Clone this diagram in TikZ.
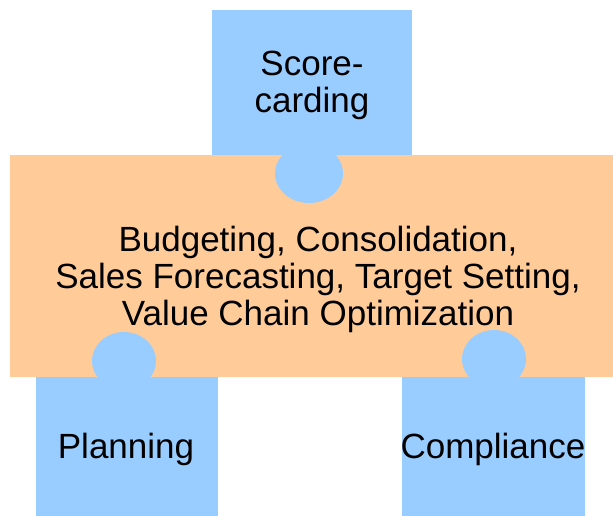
\documentclass[tikz,border=0pt]{standalone}
\usepackage{fontspec}
\setmainfont{Liberation Sans}
\usetikzlibrary{shapes.geometric}
\definecolor{tileblue}{HTML}{99CCFF}
\definecolor{tileorange}{HTML}{FFCC99}
\begin{document}
\begin{tikzpicture}[x=1pt,y=-1pt,
  tile/.style={draw=none,fill=tileblue,rectangle,inner sep=0pt,anchor=north west},
  core/.style={draw=none,fill=tileorange,rectangle,inner sep=0pt,anchor=north west},
  knob/.style={draw=none,fill=tileblue,ellipse,inner sep=0pt,minimum width=64pt,minimum height=58pt},
  lbl/.style={inner sep=0pt,font=\fontsize{35}{37}\selectfont,align=center}]
\useasboundingbox (0,0) rectangle (613,515);
% blue tiles
\node[tile,minimum width=200pt,minimum height=146pt] (score) at (212,10) {};
\node[tile,minimum width=182pt,minimum height=140pt] (plan) at (36,376) {};
\node[tile,minimum width=183pt,minimum height=140pt] (comp) at (402,376) {};
% orange core
\node[core,minimum width=604pt,minimum height=222pt] (mid) at (10,155) {};
% knobs
\node[knob,minimum width=68pt,minimum height=59pt] (kscore) at (309,173.5) {};
\node[knob] (kplan) at (124,361) {};
\node[knob] (kcomp) at (494,359) {};
% labels
\node[lbl] (tscore) at (312,85) {Score-\\carding};
\node[lbl] (tmid) at (318,279) {Budgeting, Consolidation,\\Sales Forecasting, Target Setting,\\Value Chain Optimization};
\node[lbl,anchor=base] (tplan) at (126,458) {Planning};
\node[lbl,anchor=base] (tcomp) at (493,458) {Compliance};
\end{tikzpicture}
\end{document}
